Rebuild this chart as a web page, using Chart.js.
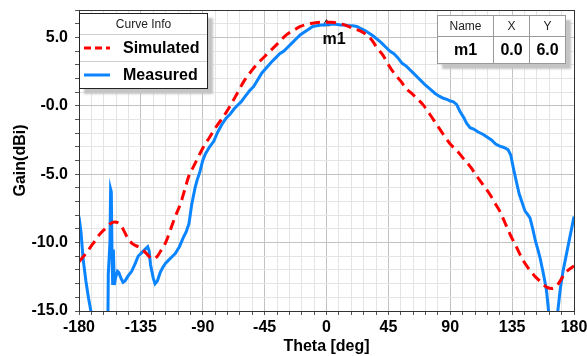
<!DOCTYPE html>
<html>
<head>
<meta charset="utf-8">
<script src="https://cdn.jsdelivr.net/npm/chart.js@4.4.1/dist/chart.umd.min.js"></script>
<style>
  html, body { margin: 0; padding: 0; background: #fff; }
  #wrap { position: relative; width: 587px; height: 356px; font-family: "Liberation Sans", Arial, sans-serif; }
  #chart { position: absolute; left: 0; top: 0; }
  .box { position: absolute; background: #fff; border: 1px solid #222; box-shadow: 5px 5px 2px #c4c4c4; }
  #legend { left: 79px; top: 13px; width: 127px; }
  #legend .head { height: 20px; line-height: 20px; text-align: center; font-size: 12px; color: #222; border-bottom: 1px solid #d0d0d0; }
  #legend .row { height: 26px; position: relative; font-size: 16px; font-weight: bold; color: #000; }
  #legend .row + .row { border-top: 1px solid #d0d0d0; }
  #legend .row svg { position: absolute; left: 4px; top: 10px; }
  #legend .row span { position: absolute; left: 43px; top: 4px; }
  #markers { left: 437px; top: 15px; border-collapse: collapse; }
  #markers td { border: 1px solid #999; text-align: center; padding: 0; }
  #markers tr.h td { height: 20px; font-size: 12px; color: #222; }
  #markers tr.v td { height: 26px; font-size: 16px; font-weight: bold; color: #000; }
</style>
</head>
<body>
<div id="wrap">
  <canvas id="chart" width="587" height="356"></canvas>
  <div id="legend" class="box">
    <div class="head">Curve Info</div>
    <div class="row"><svg width="26" height="6"><line x1="0" y1="3" x2="26" y2="3" stroke="#ff0000" stroke-width="3" stroke-dasharray="7,4"/></svg><span>Simulated</span></div>
    <div class="row"><svg width="26" height="6"><line x1="0" y1="3" x2="26" y2="3" stroke="#0a84ff" stroke-width="3"/></svg><span>Measured</span></div>
  </div>
  <table id="markers" class="box">
    <tr class="h"><td style="width:55px">Name</td><td style="width:35px">X</td><td style="width:35px">Y</td></tr>
    <tr class="v"><td>m1</td><td>0.0</td><td>6.0</td></tr>
  </table>
</div>
<script>
// simulated gain pattern (dashed red)
const thetaSim = [-180, -175, -170, -165, -160, -157, -154, -151, -148, -145, -141, -137, -134, -131, -128, -126,
  -123, -120, -117, -114, -110, -106, -103, -100, -97, -94, -90, -85, -80, -75, -70, -65, -60, -55, -50, -45,
  -41, -35, -29, -24, -19, -14, -9, -4, 0, 4, 8, 12, 16, 20, 24, 29, 33, 37, 41, 45, 49, 54, 58, 62, 66, 70,
  75, 80, 85, 90, 95, 100, 105, 109, 114, 119, 123, 126, 130, 134, 138, 143, 147, 151, 155, 158, 161, 164,
  167, 170, 173, 176, 180];
const gainSim = [-11.4, -10.8, -10.1, -9.4, -8.9, -8.6, -8.5, -8.6, -9.0, -9.6, -10.1, -10.3, -10.5, -10.8, -11.1, -11.2,
  -11.0, -10.5, -10.0, -9.2, -8.1, -7.1, -6.1, -5.1, -4.5, -3.9, -3.1, -2.3, -1.5, -0.8, 0.0, 0.9, 1.8, 2.5, 3.1, 3.6,
  4.0, 4.6, 5.2, 5.5, 5.8, 5.95, 6.05, 6.1, 6.1, 6.1, 6.05, 5.95, 5.8, 5.6, 5.5, 5.2, 4.8, 4.2, 3.7, 3.0, 2.4, 1.8, 1.25, 0.9, 0.5, 0.1,
  -0.6, -1.35, -2.1, -2.8, -3.3, -3.9, -4.5, -5.1, -5.8, -6.5, -7.2, -7.7, -8.6, -9.5, -10.3, -11.3, -11.9, -12.4, -12.8, -13.1, -13.3, -13.35,
  -13.2, -12.8, -12.3, -12.0, -11.7];

// measured gain pattern (solid blue)
const thetaMeas = [-180, -178.5, -177, -175, -173, -171, -168, -164, -160, -159, -158.7, -157.5, -157, -156.5, -156, -155.5,
  -155, -154.3, -153.5, -152, -151, -149.5, -148, -146.5, -144, -141.7, -139, -137, -134, -132, -130, -129, -128, -126,
  -124.7, -123, -121, -119, -117, -115, -112, -110, -107, -104, -102, -100, -98, -95.6, -94, -92, -90, -88, -85, -82,
  -79, -76, -73, -70, -67, -65, -62, -59, -56, -53, -50, -47, -43.5, -40, -37, -34, -31, -28, -25, -22, -19, -16, -13,
  -10, -7, -4, -2, 1, 4, 7, 10, 13, 16, 19, 22, 25, 28, 31, 34, 37, 40, 43, 46, 49, 52, 55, 58, 61, 63, 66, 69, 72,
  75.6, 79, 82, 85, 88, 90, 92, 94.6, 97, 100, 102, 104.4, 107, 110, 114, 117, 120, 123, 126, 129, 132, 134, 136, 138,
  140, 142, 144.4, 146, 148, 150, 152, 154, 155.5, 158, 160, 162, 164, 166, 168, 170, 172, 174, 177, 180];
const gainMeas = [-8.1, -9.3, -11.2, -12.8, -14.1, -15.2, -17, -19, -19, -16, -12.3, -10, -6.1, -6.3, -10.8, -13.1,
  -10.5, -13.1, -12.6, -12.1, -12.2, -12.6, -12.9, -12.8, -12.4, -12.1, -11.5, -11.0, -10.7, -10.5, -10.3, -10.6, -11.6, -12.6,
  -13.0, -12.8, -12.2, -11.8, -11.5, -11.3, -11.0, -10.8, -10.3, -9.6, -9.2, -8.6, -7.2, -6.0, -5.4, -4.8, -4.0, -3.5, -3.0, -2.6,
  -1.9, -1.35, -0.9, -0.6, -0.2, 0.0, 0.3, 0.7, 1.1, 1.4, 1.9, 2.4, 2.8, 3.2, 3.5, 3.8, 4.0, 4.3, 4.6, 4.9, 5.2, 5.4, 5.6,
  5.8, 5.85, 5.9, 5.9, 5.95, 5.95, 5.95, 5.9, 5.9, 5.85, 5.85, 5.8, 5.65, 5.5, 5.3, 5.1, 4.85, 4.6, 4.3, 4.0, 3.8, 3.5, 3.1, 2.9, 2.6, 2.4, 2.1, 1.8, 1.5,
  1.2, 0.9, 0.7, 0.55, 0.45, 0.35, 0.3, 0.1, -0.4, -0.9, -1.3, -1.6, -1.7, -1.9, -2.1, -2.3, -2.5, -2.8, -2.95, -3.05, -3.2, -3.6, -4.6, -5.5,
  -6.4, -7.0, -7.7, -7.9, -8.2, -9.0, -9.9, -10.6, -11.2, -12.4, -13.5, -15.5, -18, -18, -15.2, -13.4, -12.1, -11.1, -9.6, -8.1];

// marker m1
const markerTheta = [0];
const markerGain = [6.0];
const markerName = ['m1'];

const xTicksMajor = 45;
const yTicksMajor = 5;

function pairs(xs, ys) {
  return xs.map(function(x, i) { return { x: x, y: ys[i] }; });
}

const frame = {
  id: 'frame',
  afterDatasetsDraw: function(chart) {
    const a = chart.chartArea;
    const ctx = chart.ctx;
    ctx.save();
    ctx.strokeStyle = '#333';
    ctx.lineWidth = 1;
    ctx.strokeRect(Math.round(a.left) + 0.5, Math.round(a.top) + 0.5, Math.round(a.right - a.left), Math.round(a.bottom - a.top));
    // marker label
    const meta = chart.getDatasetMeta(2);
    ctx.fillStyle = '#000';
    ctx.font = 'bold 16px "Liberation Sans", Arial, sans-serif';
    ctx.textAlign = 'left';
    ctx.textBaseline = 'top';
    meta.data.forEach(function(pt, i) {
      ctx.fillText(markerName[i], pt.x - 4, pt.y + 8);
    });
    ctx.restore();
  }
};

const tickFont = { family: '"Liberation Sans", Arial, sans-serif', size: 16, weight: 'bold' };

new Chart(document.getElementById('chart'), {
  type: 'line',
  data: {
    datasets: [
      {
        label: 'Simulated',
        data: pairs(thetaSim, gainSim),
        borderColor: '#ff0000',
        borderWidth: 3,
        borderDash: [10, 6],
        pointRadius: 0,
        cubicInterpolationMode: 'monotone'
      },
      {
        label: 'Measured',
        data: pairs(thetaMeas, gainMeas),
        borderColor: '#0a84ff',
        borderWidth: 3,
        pointRadius: 0,
        tension: 0
      },
      {
        label: 'm1',
        data: pairs(markerTheta, markerGain),
        showLine: false,
        pointStyle: 'triangle',
        pointRadius: 4,
        backgroundColor: '#fff',
        borderColor: '#000',
        borderWidth: 1
      }
    ]
  },
  options: {
    responsive: false,
    animation: false,
    layout: { padding: { top: 10, right: 13, left: 0, bottom: 0 } },
    plugins: { legend: { display: false }, tooltip: { enabled: false } },
    scales: {
      x: {
        type: 'linear',
        min: -180,
        max: 180,
        afterFit: function(s) { s.height = 45; s.paddingLeft = 0; s.paddingRight = 0; },
        ticks: {
          stepSize: 9,
          autoSkip: false,
          maxRotation: 0,
          padding: 3,
          color: '#000',
          font: tickFont,
          callback: function(v) { return v % xTicksMajor === 0 ? String(v) : ''; }
        },
        grid: {
          color: function(c) { return c.tick && c.tick.value % xTicksMajor === 0 ? '#c2c2c2' : '#e4e4e4'; },
          tickColor: '#555',
          tickLength: 4
        },
        border: { color: '#000' },
        title: { display: true, text: 'Theta [deg]', color: '#000', font: tickFont, padding: { top: 4, bottom: 0 } }
      },
      y: {
        min: -15,
        max: 7,
        afterFit: function(s) { s.width = 79; s.paddingTop = 0; s.paddingBottom = 0; },
        ticks: {
          stepSize: 1,
          autoSkip: false,
          padding: 7,
          color: '#000',
          font: tickFont,
          callback: function(v) {
            if (v % yTicksMajor !== 0) return '';
            return v === 0 ? '-0.0' : v.toFixed(1);
          }
        },
        grid: {
          color: function(c) { return c.tick && c.tick.value % yTicksMajor === 0 ? '#c2c2c2' : '#e4e4e4'; },
          tickColor: '#555',
          tickLength: 4
        },
        border: { color: '#000' },
        title: { display: true, text: 'Gain(dBi)', color: '#000', font: tickFont, padding: { top: 11, bottom: 0 } }
      }
    }
  },
  plugins: [frame]
});
</script>
</body>
</html>
